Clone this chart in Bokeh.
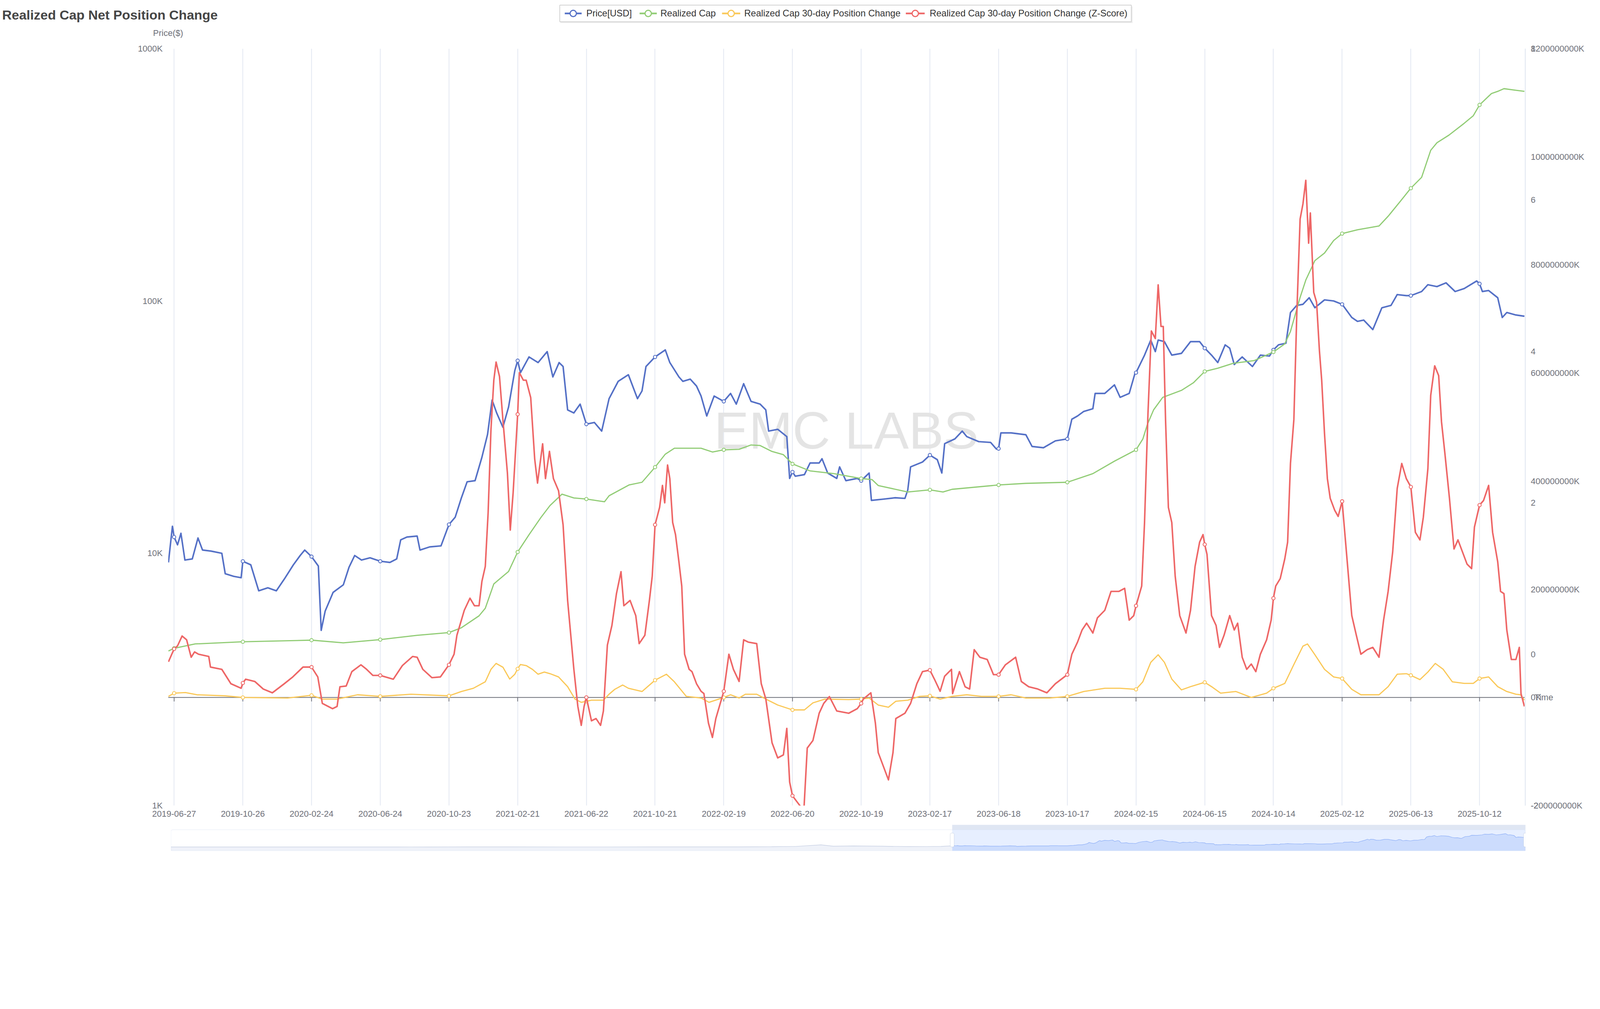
import pandas as pd
from bokeh.plotting import figure
from bokeh.models import (Range1d, LinearScale, FixedTicker, Label, Span, BoxAnnotation)
from bokeh.layouts import column, row
from bokeh.embed import file_html
from bokeh.resources import INLINE
from bokeh.core.properties import value

# ---------------- data ----------------
BASE_DATE = "2019-06-27"   # day 0 of the (day, value) pairs below

tick_labels = ["2019-06-27", "2019-10-26", "2020-02-24", "2020-06-24", "2020-10-23",
               "2021-02-21", "2021-06-22", "2021-10-21", "2022-02-19", "2022-06-20",
               "2022-10-19", "2023-02-17", "2023-06-18", "2023-10-17", "2024-02-15",
               "2024-06-15", "2024-10-14", "2025-02-12", "2025-06-13", "2025-10-12"]

price_labels = ["1K", "10K", "100K", "1000K"]
price_ticks = [1000, 10000, 100000, 1000000]
rc_ticks = [-200, 0, 200, 400, 600, 800, 1000, 1200]      # billions USD
z_ticks = [-2, 0, 2, 4, 6, 8]

# Price[USD]  (day offset, USD)
price_pts = [(-10, 9200), (-3, 12800), (0, 11600), (6, 10800), (12, 12000), (19, 9400), (32, 9500),
             (42, 11500), (50, 10300), (65, 10200), (84, 10000), (90, 8300), (105, 8100), (118, 8000),
             (121, 9300), (135, 9000), (149, 7100), (165, 7300), (180, 7100), (194, 7900), (210, 9000),
             (222, 9800), (230, 10300), (242, 9700), (254, 8900), (259, 4950), (266, 5900), (280, 7000),
             (298, 7500), (308, 8800), (318, 9800), (330, 9400), (345, 9600), (363, 9300), (380, 9200),
             (392, 9500), (399, 11300), (410, 11600), (428, 11700), (433, 10300), (450, 10600),
             (470, 10700), (484, 13000), (495, 13900), (506, 16600), (516, 19200), (530, 19400),
             (542, 24000), (552, 29600), (560, 40500), (568, 36000), (579, 31600), (589, 38000),
             (600, 53000), (605, 58000), (610, 52000), (625, 60000), (641, 57000), (657, 63000),
             (667, 50000), (678, 57000), (685, 55000), (693, 37000), (704, 36000), (715, 39000),
             (726, 32500), (740, 33000), (753, 30500), (766, 41000), (782, 48000), (800, 51000),
             (816, 41000), (824, 44000), (831, 55000), (847, 60000), (865, 64000), (873, 57000),
             (889, 50000), (896, 48000), (909, 49000), (920, 46000), (928, 42000), (938, 35000),
             (951, 42000), (968, 40000), (980, 43000), (990, 39000), (1003, 47000), (1016, 40000),
             (1032, 39000), (1042, 37000), (1047, 30500), (1063, 31000), (1079, 29000), (1084, 19800),
             (1089, 21000), (1094, 20200), (1110, 20500), (1120, 22800), (1136, 22800), (1141, 23700),
             (1151, 20800), (1167, 19800), (1172, 22000), (1183, 19400), (1203, 19800), (1210, 19400),
             (1224, 20800), (1228, 16200), (1250, 16400), (1270, 16600), (1287, 16500), (1292, 17800),
             (1297, 22000), (1318, 23000), (1331, 24500), (1344, 23500), (1352, 20800), (1357, 27200),
             (1375, 28400), (1388, 30500), (1396, 29000), (1417, 27700), (1438, 27500), (1448, 25900),
             (1452, 26000), (1456, 30000), (1474, 30000), (1500, 29500), (1511, 26500), (1531, 26200),
             (1552, 27900), (1573, 28400), (1581, 34000), (1591, 35000), (1602, 36500), (1618, 37400),
             (1622, 43000), (1639, 43000), (1656, 46500), (1666, 41500), (1682, 43000), (1692, 51500),
             (1694, 52000), (1709, 61000), (1720, 70000), (1728, 63000), (1733, 70000), (1744, 69000),
             (1757, 61000), (1774, 62000), (1790, 69000), (1806, 69000), (1815, 65000), (1827, 61000),
             (1838, 57000), (1851, 67000), (1859, 65000), (1867, 56000), (1881, 60000), (1899, 55000),
             (1913, 61000), (1929, 60500), (1936, 64000), (1945, 67000), (1958, 68000), (1966, 90000),
             (1977, 96000), (1988, 97000), (1999, 103000), (2009, 94000), (2026, 101000), (2042, 100000),
             (2057, 97000), (2074, 86000), (2084, 83000), (2095, 84000), (2111, 77000), (2127, 94000),
             (2143, 96000), (2154, 106000), (2170, 105000), (2178, 105000), (2197, 109000),
             (2208, 116000), (2224, 114000), (2240, 118000), (2256, 109000), (2272, 112000),
             (2294, 120000), (2299, 117000), (2304, 109000), (2315, 110000), (2331, 103000),
             (2339, 86000), (2347, 90000), (2363, 88000), (2378, 87000)]

# Realized Cap (day offset, billions USD)
rc_pts = [(-10, 86), (0, 91), (37, 99), (121, 103), (242, 106), (298, 101), (363, 107), (428, 115),
          (484, 120), (506, 129), (537, 151), (548, 165), (563, 210), (589, 233), (605, 269), (625, 301),
          (646, 333), (662, 355), (683, 376), (704, 369), (726, 367), (758, 362), (766, 373), (801, 393),
          (824, 398), (847, 426), (865, 450), (881, 461), (928, 461), (948, 454), (968, 458), (995, 459),
          (1016, 467), (1032, 466), (1053, 455), (1073, 449), (1089, 432), (1120, 419), (1162, 414),
          (1210, 405), (1229, 403), (1240, 392), (1292, 380), (1331, 384), (1354, 380), (1370, 385),
          (1452, 393), (1500, 396), (1573, 398), (1618, 414), (1656, 437), (1694, 458), (1706, 478),
          (1714, 505), (1725, 532), (1741, 555), (1774, 568), (1795, 582), (1815, 603), (1838, 609),
          (1865, 618), (1902, 623), (1936, 639), (1956, 654), (1966, 677), (1983, 740), (1993, 772),
          (2009, 808), (2026, 822), (2042, 845), (2057, 858), (2084, 865), (2122, 872), (2138, 890),
          (2159, 917), (2178, 942), (2197, 962), (2213, 1012), (2224, 1026), (2245, 1040), (2272, 1062),
          (2288, 1076), (2299, 1096), (2320, 1117), (2331, 1121), (2342, 1126), (2363, 1123), (2378, 1121)]

# Realized Cap 30-day Position Change (day offset, billions USD)
chg_pts = [(-10, 2), (0, 8), (20, 9), (40, 5), (90, 3), (121, 0), (200, -1), (242, 4), (261, -3),
           (287, -3), (323, 5), (363, 2), (417, 6), (484, 3), (506, 11), (527, 17), (548, 29), (558, 52),
           (567, 63), (579, 56), (591, 34), (600, 43), (605, 53), (610, 61), (620, 59), (631, 52),
           (641, 43), (652, 47), (662, 44), (677, 38), (693, 20), (706, -3), (717, -9), (726, -7),
           (735, -5), (756, -5), (766, 6), (776, 15), (790, 23), (800, 17), (824, 11), (847, 32),
           (867, 43), (881, 29), (902, 2), (928, -1), (942, -9), (968, 0), (980, 5), (995, -1),
           (1006, 6), (1026, 6), (1042, -3), (1063, -14), (1089, -23), (1110, -23), (1125, -10),
           (1146, -3), (1188, -4), (1210, -3), (1224, -1), (1240, -14), (1258, -18), (1271, -7),
           (1292, -5), (1313, 2), (1331, 3), (1349, -3), (1370, 2), (1396, 5), (1422, 2), (1452, 2),
           (1474, 5), (1500, -1), (1542, -1), (1573, 2), (1602, 11), (1639, 17), (1666, 17), (1694, 15),
           (1706, 29), (1720, 65), (1733, 79), (1744, 65), (1757, 34), (1774, 14), (1790, 20),
           (1815, 28), (1827, 20), (1843, 8), (1870, 11), (1897, 0), (1924, 8), (1936, 17), (1956, 26),
           (1972, 61), (1988, 95), (1996, 99), (2009, 79), (2026, 52), (2042, 38), (2057, 35),
           (2074, 15), (2090, 5), (2122, 5), (2138, 20), (2154, 43), (2170, 44), (2178, 41), (2194, 33),
           (2208, 47), (2221, 63), (2235, 52), (2251, 29), (2272, 26), (2288, 26), (2299, 35),
           (2315, 38), (2331, 20), (2347, 11), (2363, 6), (2371, 5), (2378, -5)]

# Realized Cap 30-day Position Change (Z-Score) (day offset, z)
z_pts = [(-10, -0.10), (0, 0.07), (6, 0.11), (14, 0.24), (22, 0.19), (30, -0.04), (36, 0.03), (43, 0.0),
         (61, -0.03), (64, -0.17), (84, -0.20), (100, -0.39), (118, -0.45), (121, -0.38), (126, -0.33),
         (142, -0.36), (157, -0.46), (173, -0.51), (194, -0.39), (209, -0.30), (227, -0.17),
         (242, -0.17), (253, -0.30), (261, -0.65), (279, -0.72), (287, -0.69), (292, -0.43),
         (303, -0.42), (313, -0.23), (329, -0.14), (339, -0.20), (350, -0.28), (363, -0.28),
         (386, -0.33), (402, -0.15), (420, -0.03), (428, -0.04), (438, -0.20), (454, -0.31),
         (469, -0.30), (484, -0.14), (493, 0.0), (498, 0.25), (511, 0.58), (521, 0.74), (529, 0.64),
         (537, 0.64), (542, 0.96), (548, 1.16), (553, 1.87), (558, 2.97), (563, 3.62), (567, 3.86),
         (573, 3.67), (579, 3.10), (587, 2.39), (592, 1.64), (597, 2.13), (602, 2.78), (605, 3.17),
         (608, 3.72), (615, 3.62), (620, 3.62), (628, 3.39), (635, 2.58), (640, 2.26), (649, 2.78),
         (654, 2.32), (661, 2.68), (668, 2.32), (677, 2.16), (685, 1.71), (693, 0.71), (704, -0.20),
         (711, -0.69), (717, -0.94), (722, -0.69), (726, -0.57), (735, -0.88), (743, -0.85),
         (751, -0.94), (756, -0.75), (763, 0.12), (771, 0.38), (779, 0.80), (787, 1.09), (792, 0.64),
         (803, 0.71), (813, 0.51), (819, 0.14), (829, 0.25), (837, 0.71), (842, 1.03), (847, 1.71),
         (855, 1.94), (860, 2.23), (864, 2.00), (869, 2.50), (873, 2.32), (878, 1.74), (883, 1.58),
         (889, 1.22), (894, 0.90), (899, 0.0), (907, -0.20), (912, -0.23), (920, -0.39), (928, -0.49),
         (933, -0.52), (941, -0.91), (948, -1.10), (954, -0.85), (968, -0.49), (977, 0.0),
         (985, -0.20), (995, -0.36), (1003, 0.19), (1011, 0.16), (1026, 0.14), (1034, -0.39),
         (1042, -0.59), (1053, -1.17), (1063, -1.37), (1073, -1.33), (1079, -0.98), (1084, -1.69),
         (1089, -1.87), (1097, -1.95), (1109, -2.07), (1115, -1.24), (1125, -1.14), (1136, -0.78),
         (1144, -0.65), (1154, -0.56), (1167, -0.75), (1188, -0.78), (1203, -0.72), (1210, -0.65),
         (1214, -0.59), (1227, -0.51), (1235, -0.91), (1240, -1.30), (1250, -1.50), (1258, -1.66),
         (1266, -1.30), (1271, -0.85), (1287, -0.78), (1297, -0.65), (1308, -0.39), (1318, -0.23),
         (1331, -0.21), (1339, -0.33), (1349, -0.49), (1357, -0.29), (1369, -0.20), (1371, -0.52),
         (1383, -0.23), (1393, -0.43), (1401, -0.46), (1409, 0.06), (1419, -0.04), (1432, -0.07),
         (1443, -0.27), (1452, -0.27), (1464, -0.14), (1482, -0.04), (1492, -0.36), (1505, -0.43),
         (1521, -0.46), (1537, -0.51), (1552, -0.39), (1573, -0.27), (1581, 0.0), (1591, 0.16),
         (1599, 0.32), (1607, 0.41), (1618, 0.28), (1626, 0.48), (1639, 0.58), (1650, 0.83),
         (1664, 0.83), (1674, 0.87), (1682, 0.45), (1690, 0.51), (1694, 0.64), (1704, 0.90),
         (1709, 1.74), (1715, 3.17), (1721, 4.27), (1728, 4.17), (1733, 4.88), (1738, 4.33),
         (1742, 4.33), (1746, 3.10), (1751, 1.94), (1757, 1.74), (1763, 1.03), (1771, 0.51),
         (1782, 0.28), (1790, 0.58), (1798, 1.16), (1806, 1.48), (1812, 1.58), (1815, 1.45),
         (1819, 1.32), (1827, 0.51), (1835, 0.38), (1841, 0.09), (1849, 0.25), (1859, 0.51),
         (1867, 0.32), (1873, 0.41), (1881, -0.04), (1889, -0.20), (1897, -0.13), (1905, -0.23),
         (1913, 0.0), (1924, 0.19), (1932, 0.45), (1936, 0.74), (1940, 0.90), (1948, 1.00),
         (1956, 1.26), (1961, 1.48), (1966, 2.52), (1972, 3.10), (1977, 4.46), (1983, 5.75),
         (1988, 5.95), (1993, 6.26), (1998, 5.43), (2001, 5.83), (2007, 4.78), (2012, 4.65),
         (2017, 4.01), (2021, 3.62), (2026, 2.91), (2031, 2.32), (2036, 2.06), (2044, 1.90),
         (2050, 1.82), (2057, 2.02), (2066, 1.22), (2074, 0.51), (2082, 0.25), (2090, 0.0),
         (2101, 0.06), (2111, 0.09), (2122, -0.04), (2130, 0.45), (2138, 0.83), (2146, 1.35),
         (2154, 2.19), (2162, 2.52), (2170, 2.32), (2178, 2.21), (2186, 1.61), (2194, 1.51),
         (2200, 1.81), (2208, 2.45), (2213, 3.42), (2220, 3.81), (2227, 3.68), (2232, 3.07),
         (2238, 2.65), (2246, 2.06), (2254, 1.39), (2261, 1.51), (2269, 1.35), (2277, 1.19),
         (2285, 1.13), (2290, 1.68), (2299, 1.97), (2306, 2.03), (2315, 2.23), (2322, 1.61),
         (2331, 1.22), (2336, 0.83), (2342, 0.80), (2347, 0.32), (2355, -0.07), (2363, -0.07),
         (2369, 0.09), (2372, -0.52), (2378, -0.69)]

# earlier price history, only visible as the data-zoom shadow
hist_dates = ["2010-07-18", "2011-02-01", "2011-06-08", "2011-11-15", "2012-06-01", "2012-12-01",
              "2013-04-09", "2013-07-01", "2013-11-30", "2014-03-01", "2014-06-01", "2015-01-14",
              "2015-07-01", "2016-01-01", "2016-06-16", "2017-01-01", "2017-05-25", "2017-09-01",
              "2017-12-17", "2018-02-06", "2018-05-01", "2018-09-01", "2018-12-15", "2019-03-01",
              "2019-05-01", "2019-06-01"]
hist_price = [0.07, 1, 29, 2.5, 5.3, 13, 230, 90, 1150, 560, 650, 180, 260, 430, 760, 1000, 2500,
              4700, 19500, 6900, 9200, 7000, 3200, 3800, 5400, 8500]

series_names = ["Price[USD]", "Realized Cap", "Realized Cap 30-day Position Change",
                "Realized Cap 30-day Position Change (Z-Score)"]

# ---------------- geometry / style ----------------
S = 4832 / 4096          # screenshot pixels per CSS pixel
M = 0.0                  # page offset in screenshot pixels (Bokeh page has no body margin)


def c(px):               # screenshot px -> CSS px (sizes)
    return px / S


FONT = "Liberation Sans"
BLUE, GREEN, YELLOW, RED = "#5470c6", "#91cc75", "#fac858", "#ee6666"
LABEL_C = "#6e7079"
FS = f"{c(26):.1f}px"
FS_LEG = f"{c(27.8):.1f}px"
MS_DAY = 86400000.0
base_ms = pd.Timestamp(BASE_DATE).value / 1e6


def day_ms(d):
    return base_ms + d * MS_DAY


def unzip(pts):
    return [day_ms(d) for d, _ in pts], [v for _, v in pts]


tick_ms = [int(pd.Timestamp(t).value // 10**6) for t in tick_labels]
tick_days = [round((t - base_ms) / MS_DAY) for t in tick_ms]
X0 = day_ms(-10.5)
X1 = day_ms(2378.7)

# CSS sizes
HEAD_H = round(c(125 - M))
MAIN_LEFT = round(c(507 - M))
MAIN_W = round(c(4604 - M))
FRAME_W = MAIN_W - MAIN_LEFT
TOP_B, FRAME_H, BOT_B = 18, 1937, 46
MAIN_H = TOP_B + FRAME_H + BOT_B
SIDE_W = 180
TOTAL_W = MAIN_W + SIDE_W
SLIDER_H = 75

# ---------------- header (title + legend + axis name) ----------------
h = figure(width=TOTAL_W, height=HEAD_H, x_range=Range1d(0, TOTAL_W), y_range=Range1d(0, HEAD_H),
           output_backend="svg", toolbar_location=None, x_axis_location=None, y_axis_location=None,
           min_border=0, frame_align=False)
h.outline_line_color = None
h.grid.visible = False


def hx(px):
    return (px - M) / S


def hy(py):
    return HEAD_H - (py - M) / S


h.text(x=[max(hx(6), 0)], y=[hy(44)], text=["Realized Cap Net Position Change"],
       text_font=value(FONT), text_font_size=f"{c(40):.1f}px", text_font_style="bold",
       text_color="#464646", text_baseline="middle", text_align="left")
h.text(x=[hx(507)], y=[hy(99)], text=["Price($)"], text_font=value(FONT), text_font_size=FS,
       text_color=LABEL_C, text_baseline="middle", text_align="center")

# legend box
h.quad(left=[hx(1692)], right=[hx(3420)], top=[hy(19)], bottom=[hy(69)], fill_color="#eeeeee",
       line_color=None)
h.quad(left=[hx(1690)], right=[hx(3416)], top=[hy(15)], bottom=[hy(65)], fill_color="white",
       line_color="#cccccc", line_width=c(2))
icon_x = [(1705, 1756), (1931, 1983), (2180, 2235), (2735, 2792)]
text_x = [1770, 1994, 2247, 2807]
ly = hy(40)
for (a, b), tx, name, col in zip(icon_x, text_x, series_names, [BLUE, GREEN, YELLOW, RED]):
    h.segment(x0=[hx(a)], y0=[ly], x1=[hx(b)], y1=[ly], line_color=col, line_width=c(5))
    h.scatter(x=[hx((a + b) / 2)], y=[ly], marker="circle", size=c(19), line_color=col,
              line_width=c(3.5), fill_color="white")
    h.text(x=[hx(tx)], y=[ly], text=[name], text_font=value(FONT), text_font_size=FS_LEG,
           text_color="#333333", text_baseline="middle", text_align="left")

# ---------------- main plot ----------------
p = figure(width=MAIN_W, height=MAIN_H, x_axis_type="datetime", y_axis_type="log",
           x_range=Range1d(X0, X1), y_range=Range1d(1000, 1000000),
           output_backend="svg", toolbar_location=None, frame_align=False,
           min_border_left=MAIN_LEFT, min_border_right=0, min_border_top=TOP_B,
           min_border_bottom=BOT_B)
p.outline_line_color = None
p.extra_y_ranges = {"rc": Range1d(-200, 1200), "z": Range1d(-2, 8)}
p.extra_y_scales = {"rc": LinearScale(), "z": LinearScale()}


def style_axis(ax, standoff):
    ax.axis_line_color = None
    ax.major_tick_line_color = None
    ax.minor_tick_line_color = None
    ax.major_tick_out = 0
    ax.major_tick_in = 0
    ax.minor_tick_out = 0
    ax.major_label_text_font = FONT
    ax.major_label_text_font_size = FS
    ax.major_label_text_color = LABEL_C
    ax.major_label_standoff = standoff


xax = p.xaxis[0]
xax.ticker = FixedTicker(ticks=tick_ms)
xax.major_label_overrides = {t: lab for t, lab in zip(tick_ms, tick_labels)}
style_axis(xax, round(c(15)))

yax = p.yaxis[0]
yax.ticker = FixedTicker(ticks=price_ticks)
yax.major_label_overrides = {t: lab for t, lab in zip(price_ticks, price_labels)}
style_axis(yax, round(c(17)))

p.ygrid.visible = False
p.xgrid.grid_line_color = "#e0e6f1"
p.xgrid.grid_line_width = c(2.2)

p.add_layout(Label(x=c(2555 - 507), y=c(2431 - 1299), x_units="screen", y_units="screen",
                   text="EMC LABS", text_font=FONT, text_font_size=f"{c(158):.1f}px",
                   text_color="#e4e4e4", text_align="center", text_baseline="middle",
                   level="underlay"))

p.add_layout(Span(location=0, dimension="width", y_range_name="rc", line_color=LABEL_C,
                  line_width=c(2.2), level="underlay"))
p.segment(x0=tick_ms, y0=[0] * len(tick_ms), x1=tick_ms, y1=[-7.4] * len(tick_ms),
          y_range_name="rc", line_color=LABEL_C, line_width=c(2.2))


def add_series(pts, color, lw, rng=None):
    xs, ys = unzip(pts)
    lookup = dict(pts)
    mx = [day_ms(d) for d in tick_days if d in lookup]
    my = [lookup[d] for d in tick_days if d in lookup]
    kw = {} if rng is None else {"y_range_name": rng}
    p.line(x=xs, y=ys, line_color=color, line_width=lw, line_join="round", **kw)
    p.scatter(x=mx, y=my, marker="circle", size=c(10), line_color=color, line_width=c(2.5),
              fill_color="white", **kw)


add_series(price_pts, BLUE, c(4.6))
add_series(rc_pts, GREEN, c(3.6), "rc")
add_series(chg_pts, YELLOW, c(3.6), "rc")
add_series(z_pts, RED, c(4.6), "z")

# ---------------- right-hand labels (two axes sharing the same side) ----------------
rc_per = 1400.0 / FRAME_H
z_per = 10.0 / FRAME_H
side = figure(width=SIDE_W, height=MAIN_H, x_range=Range1d(0, SIDE_W),
              y_range=Range1d(-200 - BOT_B * rc_per, 1200 + TOP_B * rc_per),
              output_backend="svg", toolbar_location=None, x_axis_location=None,
              y_axis_location=None, min_border=0, frame_align=False)
side.outline_line_color = None
side.grid.visible = False
side.extra_y_ranges = {"z": Range1d(-2 - BOT_B * z_per, 8 + TOP_B * z_per)}
side.segment(x0=[1], y0=[-200], x1=[1], y1=[1200], line_color="#e0e6f1", line_width=c(3))
lab_x = c(18)
side.text(x=[lab_x] * len(rc_ticks), y=rc_ticks, text=[f"{int(t * 1e6)}K" for t in rc_ticks],
          text_font=value(FONT), text_font_size=FS, text_color=LABEL_C,
          text_baseline="middle", text_align="left")
side.text(x=[lab_x] * len(z_ticks), y=z_ticks, text=[str(z) for z in z_ticks], y_range_name="z",
          text_font=value(FONT), text_font_size=FS, text_color=LABEL_C,
          text_baseline="middle", text_align="left")
side.text(x=[c(29)], y=[0], text=["Time"], text_font=value(FONT), text_font_size=FS,
          text_color=LABEL_C, text_baseline="middle", text_align="left")

# ---------------- data zoom slider ----------------
hist_ms = [pd.Timestamp(d).value / 1e6 for d in hist_dates]
main_x, main_y = unzip(price_pts)
all_y = hist_price + main_y
mn, mx_ = min(all_y), max(all_y)
rr = mx_ - mn
lo = mn - 0.3 * rr
box_top = mx_ + 0.3 * rr
per_px = (box_top - lo) / 64.0
hi = box_top + 15 * per_px

S_LEFT = round(c(515 - M))
S_FRAME_W = round(c(4091))
S_FRAME_H = round(c(79))
S0, S1 = hist_ms[0], X1
s = figure(width=TOTAL_W, height=SLIDER_H, x_axis_type="datetime", x_range=Range1d(S0, S1),
           y_range=Range1d(lo, hi), output_backend="svg", toolbar_location=None,
           x_axis_location=None, y_axis_location=None, frame_align=False,
           min_border_left=S_LEFT, min_border_right=TOTAL_W - S_LEFT - S_FRAME_W,
           min_border_top=3, min_border_bottom=SLIDER_H - 3 - S_FRAME_H)
s.outline_line_color = None
s.grid.visible = False

s.add_layout(BoxAnnotation(left=X0, right=S1, bottom=lo, top=box_top, fill_color="#87afff",
                           fill_alpha=0.2, line_color=None, level="underlay"))
unsel_x = hist_ms + [main_x[0]]
unsel_y = hist_price + [main_y[0]]
s.varea(x=unsel_x, y1=[lo] * len(unsel_x), y2=unsel_y, fill_color="#d2dbee", fill_alpha=0.35)
s.line(x=unsel_x, y=unsel_y, line_color="#c2cbe0", line_width=1.2)
s.varea(x=main_x, y1=[lo] * len(main_x), y2=main_y, fill_color="#8fb0f7", fill_alpha=0.3)
s.line(x=main_x, y=main_y, line_color="#8fb0f7", line_width=1.2)
s.add_layout(BoxAnnotation(left=S0, right=S1, bottom=lo, top=box_top, fill_alpha=0,
                           line_color="#d2dbee", line_width=c(2.5), border_radius=5))
s.add_layout(BoxAnnotation(left=X0, right=S1, bottom=box_top, top=hi, fill_color="#d2dbee",
                           fill_alpha=0.7, line_color=None))
ms_per_px = (S1 - S0) / 4091.0
for hxp in [X0, S1]:
    s.add_layout(BoxAnnotation(left=hxp - 6 * ms_per_px, right=hxp + 6 * ms_per_px,
                               bottom=lo + 12 * per_px, top=lo + 54 * per_px,
                               fill_color="white", fill_alpha=1, line_color="#acb8d1",
                               line_width=c(2), border_radius=4))

layout = column(h, row(p, side, spacing=0), s, spacing=0)
open("out.html", "w").write(file_html(layout, INLINE))
